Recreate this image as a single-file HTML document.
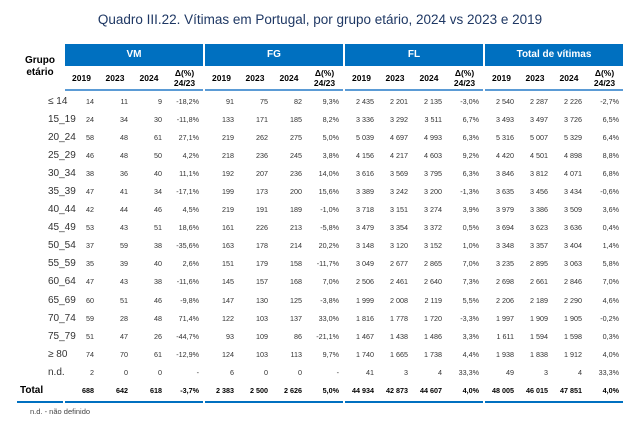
<!DOCTYPE html><html><head><meta charset="utf-8"><style>
*{box-sizing:border-box}
body{margin:0;width:640px;height:432px;background:#fff;font-family:"Liberation Sans",sans-serif;color:#333;position:relative;overflow:hidden}
.t{position:absolute;top:12px;left:0;width:640px;text-align:center;font-size:13.5px;color:#1f3864}
.r{display:flex;height:18.1px;align-items:center}
.r span{display:block;text-align:right;padding-right:4px;font-size:7.2px;white-space:nowrap;flex:none}
.r span:nth-child(4n+2){width:33px}
.r span:nth-child(4n+3),.r span:nth-child(4n+4){width:34px}
.r span:nth-child(4n+5){width:37px}
.r span.s{margin-left:2px}
.r span.l{width:65px;text-align:left;padding-left:48px;font-size:10px;color:#333;overflow:visible}
#tb{position:absolute;left:0;top:92px}
.h1{position:absolute;top:44px;height:22px;background:#0070c0;color:#fff;font-weight:bold;font-size:10px;line-height:22px;text-align:center}
.h2{position:absolute;top:66px;left:65px;height:25px;border-bottom:2px solid #5b9bd5}
.h2 .r{height:23px}
.h2 .r span{font-weight:bold;font-size:8.5px;text-align:center;padding:0;color:#000;line-height:10px}
.ge{position:absolute;left:22px;top:55px;width:36px;text-align:center;font-weight:bold;font-size:10px;line-height:12px;color:#000}
.tot span{font-weight:bold;color:#000}
.bl{position:absolute;top:401px;height:2px;background:#0070c0}
.f{position:absolute;left:30px;top:407px;font-size:7.5px;color:#444}
</style></head><body>
<div class="t">Quadro III.22. Vítimas em Portugal, por grupo etário, 2024 vs 2023 e 2019</div>
<div class="ge">Grupo<br>etário</div>
<div class="h1" style="left:65px;width:138px">VM</div>
<div class="h1" style="left:205px;width:138px">FG</div>
<div class="h1" style="left:345px;width:138px">FL</div>
<div class="h1" style="left:485px;width:138px">Total de vítimas</div>
<div class="h2" style="left:65px;width:138px"><div class="r" style="margin-left:-65px"><span class="l"></span><span>2019</span><span>2023</span><span>2024</span><span>Δ(%)<br>24/23</span></div></div>
<div class="h2" style="left:205px;width:138px"><div class="r" style="margin-left:-205px"><span class="l" style="width:205px"></span><span>2019</span><span>2023</span><span>2024</span><span>Δ(%)<br>24/23</span></div></div>
<div class="h2" style="left:345px;width:138px"><div class="r" style="margin-left:-345px"><span class="l" style="width:345px"></span><span>2019</span><span>2023</span><span>2024</span><span>Δ(%)<br>24/23</span></div></div>
<div class="h2" style="left:485px;width:138px"><div class="r" style="margin-left:-485px"><span class="l" style="width:485px"></span><span>2019</span><span>2023</span><span>2024</span><span>Δ(%)<br>24/23</span></div></div>
<div id="tb">
<div class="r"><span class="l">≤ 14</span><span>14</span><span>11</span><span>9</span><span>-18,2%</span><span class="s">91</span><span>75</span><span>82</span><span>9,3%</span><span class="s">2 435</span><span>2 201</span><span>2 135</span><span>-3,0%</span><span class="s">2 540</span><span>2 287</span><span>2 226</span><span>-2,7%</span></div>
<div class="r"><span class="l">15_19</span><span>24</span><span>34</span><span>30</span><span>-11,8%</span><span class="s">133</span><span>171</span><span>185</span><span>8,2%</span><span class="s">3 336</span><span>3 292</span><span>3 511</span><span>6,7%</span><span class="s">3 493</span><span>3 497</span><span>3 726</span><span>6,5%</span></div>
<div class="r"><span class="l">20_24</span><span>58</span><span>48</span><span>61</span><span>27,1%</span><span class="s">219</span><span>262</span><span>275</span><span>5,0%</span><span class="s">5 039</span><span>4 697</span><span>4 993</span><span>6,3%</span><span class="s">5 316</span><span>5 007</span><span>5 329</span><span>6,4%</span></div>
<div class="r"><span class="l">25_29</span><span>46</span><span>48</span><span>50</span><span>4,2%</span><span class="s">218</span><span>236</span><span>245</span><span>3,8%</span><span class="s">4 156</span><span>4 217</span><span>4 603</span><span>9,2%</span><span class="s">4 420</span><span>4 501</span><span>4 898</span><span>8,8%</span></div>
<div class="r"><span class="l">30_34</span><span>38</span><span>36</span><span>40</span><span>11,1%</span><span class="s">192</span><span>207</span><span>236</span><span>14,0%</span><span class="s">3 616</span><span>3 569</span><span>3 795</span><span>6,3%</span><span class="s">3 846</span><span>3 812</span><span>4 071</span><span>6,8%</span></div>
<div class="r"><span class="l">35_39</span><span>47</span><span>41</span><span>34</span><span>-17,1%</span><span class="s">199</span><span>173</span><span>200</span><span>15,6%</span><span class="s">3 389</span><span>3 242</span><span>3 200</span><span>-1,3%</span><span class="s">3 635</span><span>3 456</span><span>3 434</span><span>-0,6%</span></div>
<div class="r"><span class="l">40_44</span><span>42</span><span>44</span><span>46</span><span>4,5%</span><span class="s">219</span><span>191</span><span>189</span><span>-1,0%</span><span class="s">3 718</span><span>3 151</span><span>3 274</span><span>3,9%</span><span class="s">3 979</span><span>3 386</span><span>3 509</span><span>3,6%</span></div>
<div class="r"><span class="l">45_49</span><span>53</span><span>43</span><span>51</span><span>18,6%</span><span class="s">161</span><span>226</span><span>213</span><span>-5,8%</span><span class="s">3 479</span><span>3 354</span><span>3 372</span><span>0,5%</span><span class="s">3 694</span><span>3 623</span><span>3 636</span><span>0,4%</span></div>
<div class="r"><span class="l">50_54</span><span>37</span><span>59</span><span>38</span><span>-35,6%</span><span class="s">163</span><span>178</span><span>214</span><span>20,2%</span><span class="s">3 148</span><span>3 120</span><span>3 152</span><span>1,0%</span><span class="s">3 348</span><span>3 357</span><span>3 404</span><span>1,4%</span></div>
<div class="r"><span class="l">55_59</span><span>35</span><span>39</span><span>40</span><span>2,6%</span><span class="s">151</span><span>179</span><span>158</span><span>-11,7%</span><span class="s">3 049</span><span>2 677</span><span>2 865</span><span>7,0%</span><span class="s">3 235</span><span>2 895</span><span>3 063</span><span>5,8%</span></div>
<div class="r"><span class="l">60_64</span><span>47</span><span>43</span><span>38</span><span>-11,6%</span><span class="s">145</span><span>157</span><span>168</span><span>7,0%</span><span class="s">2 506</span><span>2 461</span><span>2 640</span><span>7,3%</span><span class="s">2 698</span><span>2 661</span><span>2 846</span><span>7,0%</span></div>
<div class="r"><span class="l">65_69</span><span>60</span><span>51</span><span>46</span><span>-9,8%</span><span class="s">147</span><span>130</span><span>125</span><span>-3,8%</span><span class="s">1 999</span><span>2 008</span><span>2 119</span><span>5,5%</span><span class="s">2 206</span><span>2 189</span><span>2 290</span><span>4,6%</span></div>
<div class="r"><span class="l">70_74</span><span>59</span><span>28</span><span>48</span><span>71,4%</span><span class="s">122</span><span>103</span><span>137</span><span>33,0%</span><span class="s">1 816</span><span>1 778</span><span>1 720</span><span>-3,3%</span><span class="s">1 997</span><span>1 909</span><span>1 905</span><span>-0,2%</span></div>
<div class="r"><span class="l">75_79</span><span>51</span><span>47</span><span>26</span><span>-44,7%</span><span class="s">93</span><span>109</span><span>86</span><span>-21,1%</span><span class="s">1 467</span><span>1 438</span><span>1 486</span><span>3,3%</span><span class="s">1 611</span><span>1 594</span><span>1 598</span><span>0,3%</span></div>
<div class="r"><span class="l">≥ 80</span><span>74</span><span>70</span><span>61</span><span>-12,9%</span><span class="s">124</span><span>103</span><span>113</span><span>9,7%</span><span class="s">1 740</span><span>1 665</span><span>1 738</span><span>4,4%</span><span class="s">1 938</span><span>1 838</span><span>1 912</span><span>4,0%</span></div>
<div class="r"><span class="l">n.d.</span><span>2</span><span>0</span><span>0</span><span>-</span><span class="s">6</span><span>0</span><span>0</span><span>-</span><span class="s">41</span><span>3</span><span>4</span><span>33,3%</span><span class="s">49</span><span>3</span><span>4</span><span>33,3%</span></div>
<div class="r tot"><span class="l" style="padding-left:20px;font-weight:bold;color:#000">Total</span><span>688</span><span>642</span><span>618</span><span>-3,7%</span><span class="s">2 383</span><span>2 500</span><span>2 626</span><span>5,0%</span><span class="s">44 934</span><span>42 873</span><span>44 607</span><span>4,0%</span><span class="s">48 005</span><span>46 015</span><span>47 851</span><span>4,0%</span></div>
</div>
<div class="bl" style="left:17px;width:46px"></div>
<div class="bl" style="left:65px;width:138px"></div>
<div class="bl" style="left:205px;width:138px"></div>
<div class="bl" style="left:345px;width:138px"></div>
<div class="bl" style="left:485px;width:138px"></div>
<div class="f">n.d. - não definido</div>
</body></html>
